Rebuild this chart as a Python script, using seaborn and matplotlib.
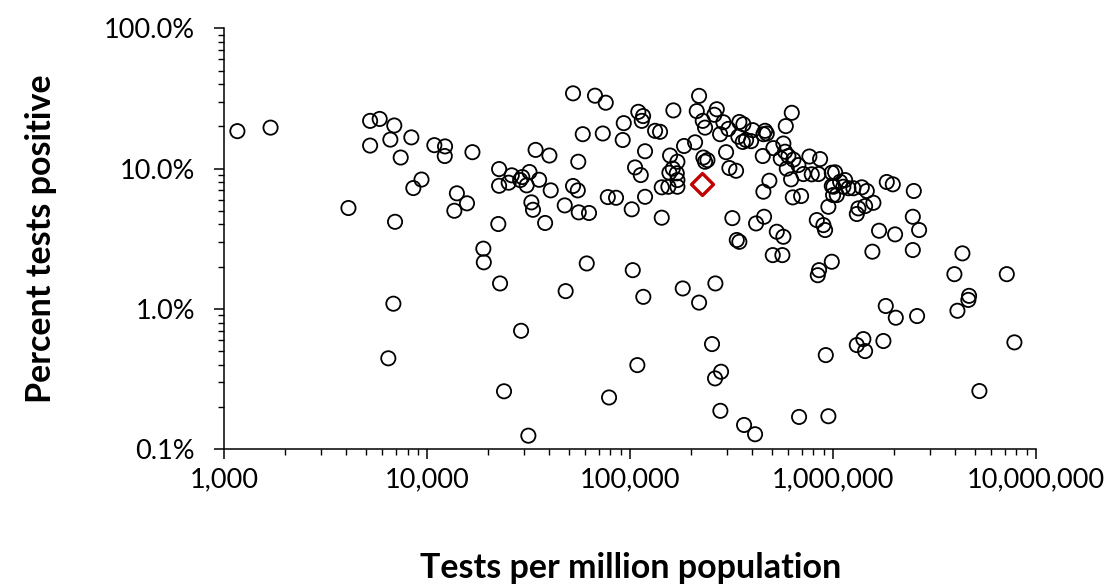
import numpy as np
import pandas as pd
import seaborn as sns
import matplotlib.pyplot as plt
from matplotlib.ticker import FuncFormatter, NullFormatter, LogLocator

# tests per million population / percent of tests positive
tests_per_million = [
    1160, 1690, 5230, 5830, 6880, 5230, 6580, 8350, 7400, 9370, 8540, 4090, 6940,
    52300, 67100, 75800, 93000, 58400, 73300, 91900, 10840, 12240, 12200, 16700,
    34200, 40000, 55500, 22600, 26100, 31900, 29400, 35600, 25200, 22600, 28700,
    30900, 40600, 52300, 55200, 14000, 15700, 13600, 32600, 33200, 47600, 55800,
    62700, 77600, 85200, 22400, 38100, 18900, 19000, 61100,
    218600, 109700, 115800, 114100, 163300, 212900, 267200, 260000, 227900, 233900,
    288000, 304800, 277400, 345200, 361300, 402000, 341400, 372600, 394400, 358900,
    462200, 471300, 453400, 625800, 584700, 132700, 140400, 118400, 208900, 184300,
    157300, 170900, 229500, 240300, 233900, 297000, 450300, 507900, 568900, 580000,
    602200, 637400, 552400, 674500, 764200, 862900, 591300, 714000, 785200, 846500,
    620900, 105700, 112800, 162200, 169700, 156100, 143100, 154300, 170900, 170900,
    308300, 332600, 485300, 453400, 118400, 101800, 143100, 318900, 417400, 457000,
    335300, 345200, 527900, 568900, 504400, 562500, 633100, 695700, 947900, 831300,
    895800, 913300, 985400, 853100, 840600, 103000, 985400, 1003000, 1000000,
    1023000, 985400, 1083000, 1146000, 1124000, 1190000, 1043000, 1259000, 1385000,
    1466000, 1839000, 1969000, 2499000, 1580000, 1438000, 1333000, 1309000, 2471000,
    2654000, 1685000, 2021000, 1562000, 2471000, 4338000, 3961000, 7178000,
    6810, 6430, 22850, 48100, 29000, 23900, 78700, 31500,
    116100, 181600, 218600, 263000, 253200, 108500, 280500, 262000, 920500, 278300,
    364200, 412600, 679800, 947900,
    1818000, 2037000, 2594000, 4679000, 4642000, 4100000, 1410000, 1309000, 1438000,
    1770000, 7826000, 5260000,
]
pct_positive = [
    18.5, 19.6, 21.9, 22.6, 20.3, 14.6, 16.1, 16.7, 12.0, 8.36, 7.27, 5.24, 4.18,
    34.4, 33.1, 29.5, 21.1, 17.6, 17.8, 16.0, 14.7, 14.4, 12.3, 13.1,
    13.6, 12.4, 11.2, 9.93, 8.96, 9.46, 8.71, 8.33, 7.94, 7.55, 8.29,
    7.60, 7.00, 7.52, 7.00, 6.67, 5.66, 5.01, 5.75, 5.09, 5.47, 4.88,
    4.83, 6.27, 6.20, 4.03, 4.10, 2.69, 2.15, 2.11,
    33.0, 25.4, 23.7, 21.9, 26.0, 25.7, 26.5, 24.2, 21.9, 19.6,
    21.4, 19.2, 17.6, 21.5, 20.7, 18.8, 16.9, 16.0, 15.7, 15.5,
    18.6, 17.8, 17.6, 25.0, 20.1, 18.6, 18.3, 13.3, 15.4, 14.5,
    12.4, 11.2, 12.0, 11.5, 11.2, 13.1, 12.3, 14.0, 15.1, 13.2,
    12.3, 11.6, 11.8, 10.6, 12.2, 11.7, 10.0, 9.15, 9.11, 9.15,
    8.39, 10.2, 9.00, 10.0, 9.26, 9.35, 7.36, 7.43, 8.29, 7.43,
    10.1, 9.66, 8.20, 6.85, 6.30, 5.13, 4.47, 4.44, 4.07, 4.54,
    3.10, 3.01, 3.55, 3.27, 2.42, 2.42, 6.24, 6.38, 5.35, 4.30,
    3.96, 3.65, 2.17, 1.89, 1.74, 1.89, 9.35, 7.43, 6.48,
    9.41, 7.52, 8.06, 8.29, 7.43, 7.25, 6.48, 7.25, 7.36,
    6.93, 8.03, 7.73, 6.93, 5.71, 5.41, 5.21, 4.75, 4.54,
    3.65, 3.61, 3.40, 2.56, 2.63, 2.49, 1.77, 1.77,
    1.09, 0.445, 1.52, 1.34, 0.699, 0.259, 0.234, 0.125,
    1.22, 1.40, 1.11, 1.52, 0.562, 0.398, 0.357, 0.320, 0.469, 0.188,
    0.149, 0.128, 0.170, 0.172,
    1.05, 0.866, 0.890, 1.24, 1.16, 0.971, 0.610, 0.553, 0.501,
    0.591, 0.578, 0.260,
]

# the highlighted country (red diamond)
highlight_tests = [225300]
highlight_pct = [7.73]

df = pd.DataFrame({'tests': tests_per_million, 'pct': pct_positive})
hl = pd.DataFrame({'tests': highlight_tests, 'pct': highlight_pct})

sns.set_style('ticks')
plt.rcParams['font.family'] = ['Lato', 'DejaVu Sans']
plt.rcParams['text.color'] = 'black'
plt.rcParams['axes.labelcolor'] = 'black'

fig = plt.figure(figsize=(11.11, 5.85), dpi=100)
ax = fig.add_axes([0.2019, 0.232, 0.7306, 0.7196])

sns.scatterplot(data=df, x='tests', y='pct', ax=ax, marker='o', s=105,
                facecolors='none', edgecolor='black', linewidth=1.3, zorder=3)
sns.scatterplot(data=hl, x='tests', y='pct', ax=ax, marker='D', s=125,
                facecolors='white', edgecolor='#C00000', linewidth=2.4, zorder=4)

ax.set_xscale('log')
ax.set_yscale('log')
ax.set_xlim(1000, 1e7)
ax.set_ylim(0.1, 100)

ax.xaxis.set_major_locator(LogLocator(base=10, numticks=10))
ax.yaxis.set_major_locator(LogLocator(base=10, numticks=10))
ax.xaxis.set_minor_locator(LogLocator(base=10, subs=np.arange(2, 10), numticks=20))
ax.yaxis.set_minor_locator(LogLocator(base=10, subs=np.arange(2, 10), numticks=20))
ax.xaxis.set_major_formatter(FuncFormatter(lambda v, p: f'{v:,.0f}'))
ax.yaxis.set_major_formatter(FuncFormatter(lambda v, p: f'{v:.1f}%'))
ax.xaxis.set_minor_formatter(NullFormatter())
ax.yaxis.set_minor_formatter(NullFormatter())

for side in ['top', 'right']:
    ax.spines[side].set_visible(False)
for side in ['left', 'bottom']:
    ax.spines[side].set_color('black')
    ax.spines[side].set_linewidth(1.1)

ax.tick_params(which='both', bottom=True, left=True, top=False, right=False)
ax.tick_params(which='major', direction='out', length=7, width=1.1, color='black',
               labelsize=19.5, labelcolor='black')
ax.tick_params(which='minor', direction='out', length=4.5, width=1.0, color='black')
ax.tick_params(axis='x', which='major', pad=6)
ax.tick_params(axis='y', which='major', pad=14)

ax.set_xlabel('Tests per million population', fontsize=24.5, fontweight='bold', labelpad=43)
ax.set_ylabel('Percent tests positive', fontsize=24.5, fontweight='bold', labelpad=34)
ax.grid(False)

fig.savefig('out.png', dpi=100, facecolor='white')
